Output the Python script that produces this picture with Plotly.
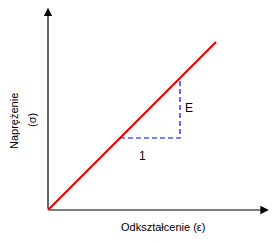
import plotly.graph_objects as go

# data (units: 1 unit = 24 px)
strain = [0, 7]
stress = [0, 7]
tri_x = [3, 5.5, 5.5]
tri_y = [3, 3, 5.5]
x_label = "Odkształcenie (ε)"
y_label_lines = ["Naprężenie", "(σ)"]
slope_label = "E"
run_label = "1"

fig = go.Figure()
fig.add_trace(go.Scatter(x=tri_x, y=tri_y, mode="lines",
                         line=dict(color="#0000ff", width=1.2, dash="5px,3px"),
                         hoverinfo="skip"))
fig.add_trace(go.Scatter(x=strain, y=stress, mode="lines",
                         line=dict(color="#ee0000", width=2.2),
                         hoverinfo="skip"))

ann = []
# axes as arrows
ann.append(dict(x=0, y=8.43, ax=0, ay=0, xref="x", yref="y", axref="x", ayref="y",
                showarrow=True, arrowhead=2, arrowsize=1.4, arrowwidth=1.2,
                arrowcolor="black", text=""))
ann.append(dict(x=9.2, y=0, ax=0, ay=0, xref="x", yref="y", axref="x", ayref="y",
                showarrow=True, arrowhead=2, arrowsize=1.4, arrowwidth=1.2,
                arrowcolor="black", text=""))
font = dict(family="Liberation Sans, Arial", size=11, color="black")
ann.append(dict(x=5.875, y=4.27, text=slope_label, showarrow=False, xref="x", yref="y",
                font=dict(family="Liberation Sans, Arial", size=12, color="black")))
ann.append(dict(x=3.92, y=2.25, text=run_label, showarrow=False, xref="x", yref="y",
                font=dict(family="Liberation Sans, Arial", size=12, color="black")))
ann.append(dict(x=(163 - 48) / 24, y=(210 - 227) / 24, text=x_label, showarrow=False,
                xref="x", yref="y", font=font))
ann.append(dict(x=(14 - 48) / 24, y=(210 - 121) / 24, text=y_label_lines[0], showarrow=False,
                xref="x", yref="y", textangle=-90, font=font))
ann.append(dict(x=(32 - 48) / 24, y=(210 - 120) / 24, text=y_label_lines[1], showarrow=False,
                xref="x", yref="y", textangle=-90, font=font))

fig.update_layout(
    width=277, height=244,
    margin=dict(l=0, r=0, t=0, b=0),
    paper_bgcolor="white", plot_bgcolor="white",
    showlegend=False,
    xaxis=dict(range=[-2, 229 / 24], visible=False, fixedrange=True),
    yaxis=dict(range=[-34 / 24, 210 / 24], visible=False, fixedrange=True),
    annotations=ann,
)
fig.write_html("out.html", config={"displayModeBar": False})
